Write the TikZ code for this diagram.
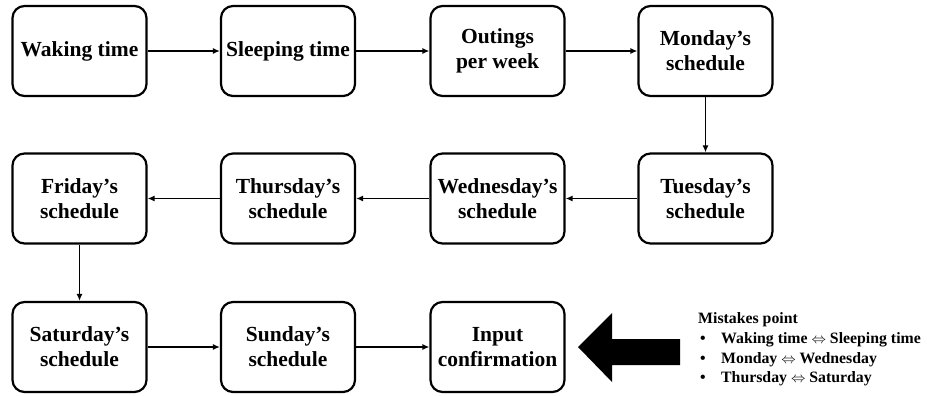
\documentclass[tikz,border=0pt]{standalone}
\usepackage{fontspec}
\setmainfont{Liberation Serif}
\usetikzlibrary{arrows.meta}
\begin{document}
\begin{tikzpicture}[x=1pt,y=-1pt,
  box/.style={draw, line width=2.2pt, rounded corners=12pt, minimum width=134pt, minimum height=90pt,
    align=center, font=\bfseries\fontsize{21.5}{25}\selectfont, inner sep=0pt},
  conn/.style={line width=1.8pt, -{Latex[length=7pt,width=6pt]}},
  leg/.style={anchor=base west, inner sep=0pt, font=\bfseries\fontsize{15.8}{18}\selectfont}]
\useasboundingbox (0,0) rectangle (927,396);
\node[box] (wake) at (79.5,51) {Waking time};
\node[box] (sleep) at (288,51) {Sleeping time};
\node[box] (out) at (497.5,51) {Outings\\per week};
\node[box] (mon) at (705.5,51) {Monday’s\\schedule};
\node[box] (tue) at (705.5,198.5) {Tuesday’s\\schedule};
\node[box] (wed) at (497.5,198.5) {Wednesday’s\\schedule};
\node[box] (thu) at (288,198.5) {Thursday’s\\schedule};
\node[box] (fri) at (79.5,198.5) {Friday’s\\schedule};
\node[box] (sat) at (79.5,347) {Saturday’s\\schedule};
\node[box] (sun) at (288,347) {Sunday’s\\schedule};
\node[box] (inp) at (497.5,347) {Input\\confirmation};
\draw[conn] (wake) -- (sleep);
\draw[conn] (sleep) -- (out);
\draw[conn] (out) -- (mon);
\draw[conn] (mon) -- (tue);
\draw[conn] (tue) -- (wed);
\draw[conn] (wed) -- (thu);
\draw[conn] (thu) -- (fri);
\draw[conn] (fri) -- (sat);
\draw[conn] (sat) -- (sun);
\draw[conn] (sun) -- (inp);
\fill (578,347) -- (612,313) -- (612,339) -- (680,339) -- (680,365) -- (612,365) -- (612,382) -- cycle;
\node[leg] (lt) at (698,323) {Mistakes point};
\node[leg] (l1) at (700,343) {\makebox[21pt][l]{\textbullet}Waking time $\Leftrightarrow$ Sleeping time};
\node[leg] (l2) at (700,363) {\makebox[21pt][l]{\textbullet}Monday $\Leftrightarrow$ Wednesday};
\node[leg] (l3) at (700,382) {\makebox[21pt][l]{\textbullet}Thursday $\Leftrightarrow$ Saturday};
\end{tikzpicture}
\end{document}
